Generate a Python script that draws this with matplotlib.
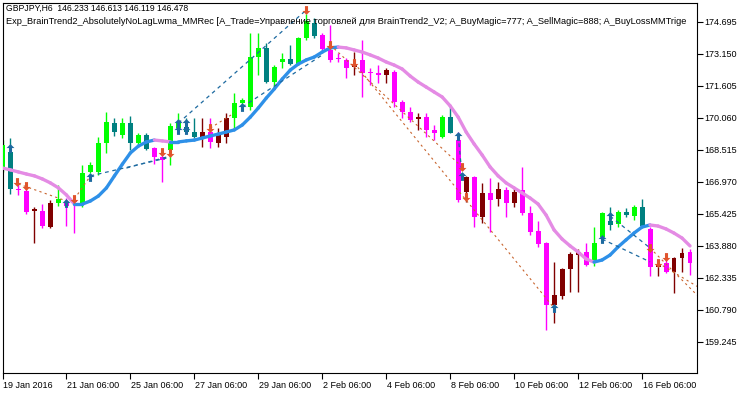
import numpy as np
import matplotlib
matplotlib.use("Agg")
import matplotlib.pyplot as plt
import matplotlib.transforms as mtrans
from matplotlib.path import Path

plt.rcParams['font.family'] = ['Liberation Sans', 'DejaVu Sans']

# GBPJPY H6 candles
opens = [167.63, 168.40, 166.62, 166.52, 165.56, 165.56, 164.78, 165.94, 165.94, 166.09,
         165.94, 167.44, 167.44, 168.84, 169.80, 169.23, 169.80, 168.84, 169.23, 168.60,
         168.16, 168.50, 169.56, 169.61, 169.37, 169.08, 169.37, 168.84, 169.13, 170.05,
         170.77, 170.58, 172.99, 173.43, 171.78, 172.75, 172.89, 172.65, 173.91, 174.63,
         174.05, 173.33, 172.94, 172.85, 172.51, 172.85, 172.27, 172.22, 172.12, 172.27,
         170.82, 170.34, 170.00, 170.09, 169.47, 169.13, 170.09, 168.98, 166.47, 167.20,
         165.27, 166.43, 166.14, 166.57, 165.94, 166.57, 165.46, 164.59, 164.01, 161.02,
         161.45, 162.76, 163.43, 163.58, 163.05, 164.30, 165.07, 164.93, 165.51, 165.31,
         165.75, 164.69, 162.85, 163.05, 162.61, 163.29, 163.58]
highs = [168.98, 169.08, 166.86, 166.67, 165.75, 165.89, 166.09, 166.81, 166.18, 166.23,
         167.78, 167.92, 169.13, 170.34, 170.05, 170.05, 170.14, 169.32, 169.32, 168.65,
         168.50, 169.80, 170.29, 170.05, 170.05, 170.05, 170.05, 169.56, 170.29, 171.25,
         171.01, 174.15, 174.15, 173.67, 172.60, 173.18, 173.57, 173.96, 175.07, 174.87,
         174.15, 174.54, 173.18, 172.94, 173.23, 173.81, 172.46, 172.60, 172.46, 172.36,
         170.92, 170.58, 170.29, 170.29, 169.71, 170.19, 170.67, 169.37, 167.25, 167.25,
         166.91, 167.15, 166.96, 166.71, 166.71, 167.68, 165.80, 165.07, 164.06, 163.09,
         162.80, 163.58, 163.72, 164.01, 164.78, 165.51, 165.75, 165.60, 165.70, 165.85,
         166.14, 164.78, 163.19, 163.53, 163.34, 163.77, 163.72]
lows = [167.44, 166.38, 166.33, 165.41, 164.01, 164.74, 164.74, 165.80, 164.83, 164.49,
        165.75, 167.39, 167.29, 168.36, 169.18, 169.08, 168.50, 168.74, 168.50, 167.82,
        166.96, 167.78, 169.42, 169.32, 169.08, 168.65, 168.60, 168.65, 168.84, 169.56,
        170.58, 170.43, 172.12, 171.74, 171.49, 172.46, 172.60, 172.60, 173.81, 173.91,
        173.23, 172.75, 172.75, 171.98, 172.12, 171.06, 171.64, 171.74, 171.74, 170.58,
        170.05, 169.85, 169.47, 169.13, 168.98, 169.08, 169.32, 165.99, 165.99, 164.78,
        164.98, 164.54, 165.80, 165.27, 165.75, 165.36, 164.40, 163.82, 159.81, 160.15,
        161.31, 161.65, 161.65, 162.90, 162.90, 164.20, 164.64, 164.78, 165.27, 165.12,
        164.78, 162.42, 162.42, 162.56, 161.60, 162.61, 162.47]
closes = [168.74, 166.62, 166.57, 165.51, 165.65, 164.83, 165.94, 166.14, 165.80, 165.99,
          167.39, 167.78, 168.84, 169.85, 169.37, 169.80, 168.84, 169.23, 168.55, 168.16,
          168.02, 169.66, 169.85, 169.37, 169.13, 169.37, 168.89, 169.23, 170.05, 170.77,
          170.92, 172.99, 173.43, 171.78, 172.51, 172.89, 172.65, 173.91, 174.73, 174.00,
          173.38, 172.85, 172.89, 172.46, 172.65, 172.22, 172.22, 172.12, 172.36, 170.82,
          170.34, 169.95, 170.09, 169.47, 169.32, 170.09, 169.32, 166.09, 167.20, 165.27,
          166.43, 166.09, 166.62, 165.94, 166.47, 165.46, 164.54, 163.96, 161.02, 161.50,
          162.76, 163.48, 163.58, 162.95, 164.01, 165.46, 164.88, 165.51, 165.36, 165.75,
          164.83, 162.85, 163.00, 162.61, 163.29, 163.53, 163.05]
# candle colour code: L lime, T teal, M magenta, R maroon
candle_codes = "LTMMRMRLMMLLLLTLTLTMMLLTTRMRRLLLLTLLTLLTMMMMRMMMRMMMRMMLTMRMRMRMRMMMMRRRRMLLTLTLTMRMRRM"

# AbsolutelyNoLagLwma line
ma = [167.63, 167.54, 167.44, 167.34, 167.25, 167.10, 166.91, 166.67, 166.33, 165.89,
      165.89, 166.04, 166.28, 166.67, 167.25, 167.82, 168.36, 168.69, 168.89, 168.98,
      168.94, 168.89, 168.89, 168.94, 168.98, 169.08, 169.18, 169.27, 169.37, 169.47,
      169.71, 170.09, 170.53, 171.01, 171.45, 171.93, 172.36, 172.65, 172.85, 172.99,
      173.23, 173.43, 173.47, 173.43, 173.33, 173.23, 173.09, 172.94, 172.75, 172.60,
      172.41, 172.07, 171.78, 171.54, 171.30, 171.06, 170.63, 170.09, 169.37, 168.79,
      168.26, 167.68, 167.25, 166.91, 166.67, 166.43, 166.18, 165.89, 165.36, 164.64,
      164.20, 163.87, 163.58, 163.24, 163.09, 163.19, 163.43, 163.82, 164.16, 164.49,
      164.78, 164.88, 164.83, 164.69, 164.49, 164.25, 163.87]

buy_bars = [1, 8, 11, 22, 22, 23, 23, 30, 57, 57.5, 69, 75, 76]
buy_prices = [168.60, 165.94, 167.20, 169.80, 169.47, 169.80, 169.47, 170.58, 169.18, 167.25, 160.87, 164.20, 165.31]
sell_bars = [1.8, 3, 9, 20, 21, 26, 38, 41, 44, 57.5, 58, 81, 82, 83]
sell_prices = [166.96, 166.76, 166.14, 168.40, 168.36, 169.56, 175.26, 173.57, 172.70, 167.68, 166.23, 163.77, 163.05, 163.34]

# trade lines: (bar0, price0, bar1, price1)
buy_lines = [(11, 167.25, 20.5, 168.11), (15.5, 167.63, 21, 168.21), (22, 169.80, 38, 175.26),
             (30, 170.58, 40, 173.09), (57, 169.18, 57.5, 167.25), (75, 164.20, 81, 163.10),
             (76, 165.31, 81, 163.77)]
sell_lines = [(2, 166.86, 8, 166.04), (9, 166.14, 11, 167.25), (26, 169.56, 29, 170.29),
              (41, 173.57, 57.5, 167.68), (44, 172.70, 69, 160.87), (81, 163.77, 87, 161.45),
              (82, 163.05, 87, 161.89)]

yticks = [174.695, 173.150, 171.605, 170.060, 168.515, 166.970, 165.425, 163.880, 162.335, 160.790, 159.245]
xtick_bars = [0, 8, 16, 24, 32, 40, 48, 56, 64, 72, 80]
xtick_labels = ["19 Jan 2016", "21 Jan 06:00", "25 Jan 06:00", "27 Jan 06:00", "29 Jan 06:00",
                "2 Feb 06:00", "4 Feb 06:00", "8 Feb 06:00", "10 Feb 06:00", "12 Feb 06:00", "16 Feb 06:00"]

title1 = "GBPJPY,H6  146.233 146.613 146.119 146.478"
title2 = ("Exp_BrainTrend2_AbsolutelyNoLagLwma_MMRec [A_Trade=Управление торговлей для BrainTrend2_V2; "
          "A_BuyMagic=777; A_SellMagic=888; A_BuyLossMMTrige")

palette = {'L': '#00ff00', 'T': '#008080', 'M': '#ff00ff', 'R': '#800000'}
ma_up, ma_dn = '#2e90e8', '#e48be4'
buy_col, sell_col = '#1d6aa0', '#e0542c'

fig = plt.figure(figsize=(7.5, 3.94), dpi=100)
ax = fig.add_axes([2.5 / 750, 1 - 373 / 394, 694.5 / 750, 370 / 394])

n = len(opens)
idx = np.arange(n)
cols = [palette[c] for c in candle_codes]

# wicks and bodies
ax.vlines(idx, lows, highs, colors=cols, linewidth=1.0, zorder=2)
o = np.array(opens)
c = np.array(closes)
bottoms = np.minimum(o, c)
heights = np.maximum(np.abs(c - o), 0.03)
ax.bar(idx, heights, bottom=bottoms, width=0.62, color=cols, linewidth=0, zorder=3)

# ma line coloured by slope
for i in range(n - 1):
    col = ma_up if ma[i + 1] >= ma[i] else ma_dn
    ax.plot([i, i + 1], [ma[i], ma[i + 1]], color=col, linewidth=2.4,
            solid_capstyle='round', zorder=4)

for b0, p0, b1, p1 in buy_lines:
    ax.plot([b0, b1], [p0, p1], color=buy_col, linewidth=0.9, linestyle=(0, (3, 3)), zorder=5)
for b0, p0, b1, p1 in sell_lines:
    ax.plot([b0, b1], [p0, p1], color='#c8642e', linewidth=0.8, linestyle=(0, (2, 3)), zorder=5)

arrow_up = Path([(0, 1), (0.9, 0.1), (0.35, 0.1), (0.35, -1), (-0.35, -1), (-0.35, 0.1), (-0.9, 0.1), (0, 1)],
                [Path.MOVETO] + [Path.LINETO] * 6 + [Path.CLOSEPOLY])
arrow_dn = Path([(0, -1), (0.9, -0.1), (0.35, -0.1), (0.35, 1), (-0.35, 1), (-0.35, -0.1), (-0.9, -0.1), (0, -1)],
                [Path.MOVETO] + [Path.LINETO] * 6 + [Path.CLOSEPOLY])
ax.scatter(buy_bars, buy_prices, marker=arrow_up, s=40, color=buy_col, linewidths=0, zorder=6)
ax.scatter(sell_bars, sell_prices, marker=arrow_dn, s=40, color=sell_col, linewidths=0, zorder=6)

ax.set_xlim(0.06, 86.875)
ax.set_ylim(157.734, 175.598)

ax.yaxis.tick_right()
ax.set_yticks(yticks)
ax.set_yticklabels([f"{v:.3f}" for v in yticks])
ax.set_xticks(xtick_bars)
ax.set_xticklabels(xtick_labels, ha='left')
ax.tick_params(axis='both', length=4, width=0.8, color='black', labelsize=6.5, pad=1.5)
offset = mtrans.ScaledTranslation(0.5 / 72, 0, fig.dpi_scale_trans)
for lab in ax.get_xticklabels():
    lab.set_transform(lab.get_transform() + offset)

for sp in ax.spines.values():
    sp.set_color('black')
    sp.set_linewidth(0.8)

ax.text(3 / 694.5, 1 - 5 / 370, title1, transform=ax.transAxes,
        fontsize=6.2, va='center', ha='left', zorder=7)
ax.text(3 / 694.5, 1 - 18 / 370, title2, transform=ax.transAxes,
        fontsize=6.7, va='center', ha='left', zorder=7)

fig.savefig("out.png", dpi=100)
